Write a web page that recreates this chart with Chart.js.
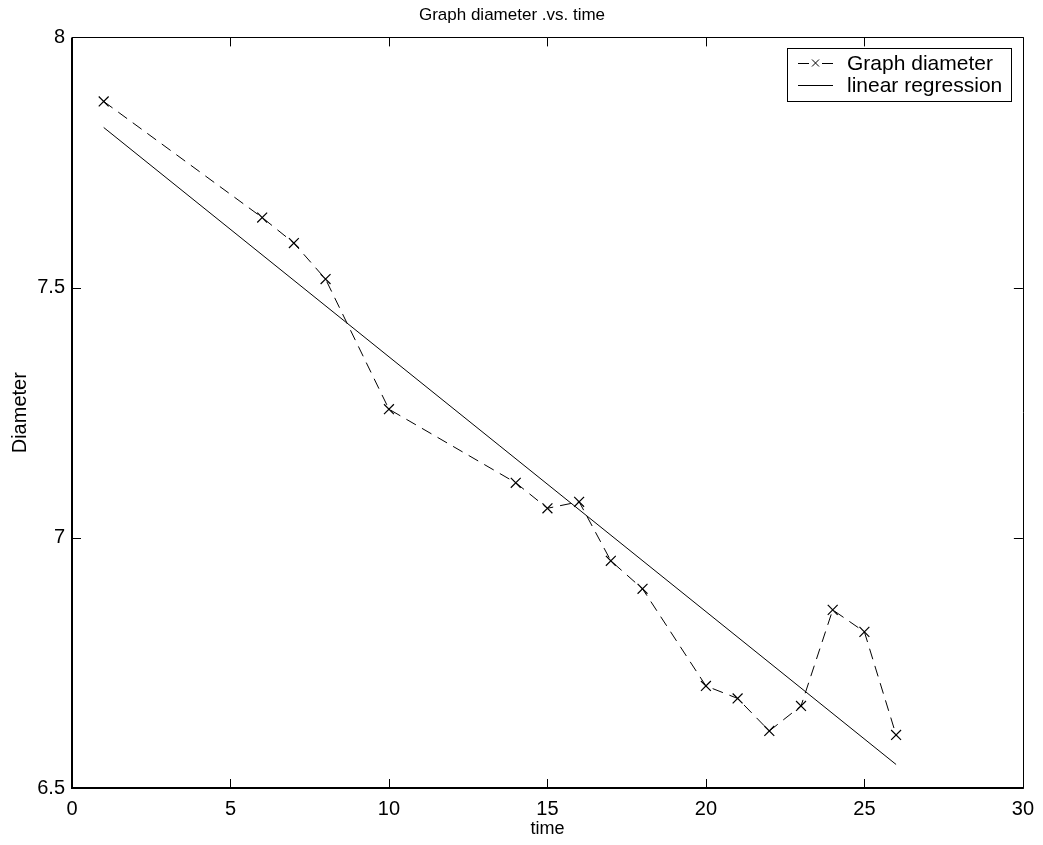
<!DOCTYPE html>
<html>
<head>
<meta charset="utf-8">
<title>Graph diameter .vs. time</title>
<script src="https://cdn.jsdelivr.net/npm/chart.js@4"></script>
<style>
    html, body { margin: 0; padding: 0; background: #fff; }
    #wrap { width: 1043px; height: 845px; }
</style>
</head>
<body>
<div id="wrap"><canvas id="diameterChart" width="1043" height="845"></canvas></div>
<script>
// Values
const timeValues = [1, 6, 7, 8, 10, 14, 15, 16, 17, 18, 20, 21, 22, 23, 24, 25, 26];
const diameterValues = [7.872, 7.640, 7.589, 7.517, 7.257, 7.110, 7.059, 7.072, 6.954, 6.898,
                        6.704, 6.679, 6.614, 6.664, 6.856, 6.812, 6.606];
const regressionTime = [1, 26];
const regressionValues = [7.820, 6.547];
const xTicks = [0, 5, 10, 15, 20, 25, 30];
const yTicks = [6.5, 7, 7.5, 8];
const seriesNames = ['Graph diameter', 'linear regression'];

const FONT = "'Liberation Sans', Arial, Helvetica, sans-serif";

// MATLAB style box with ticks pointing inwards on all four sides
const boxPlugin = {
    id: 'matlabBox',
    afterDraw(chart) {
        const { ctx, chartArea: a, scales } = chart;
        const len = 9;
        ctx.save();
        ctx.strokeStyle = '#000';
        ctx.lineWidth = 1;
        ctx.beginPath();
        xTicks.forEach(v => {
            const px = Math.round(scales.x.getPixelForValue(v)) + 0.5;
            ctx.moveTo(px, a.bottom); ctx.lineTo(px, a.bottom - len);
            ctx.moveTo(px, a.top); ctx.lineTo(px, a.top + len);
        });
        yTicks.forEach(v => {
            const py = Math.round(scales.y.getPixelForValue(v)) + 0.5;
            ctx.moveTo(a.left, py); ctx.lineTo(a.left + len, py);
            ctx.moveTo(a.right, py); ctx.lineTo(a.right - len, py);
        });
        ctx.stroke();

        // top and right edges thin, left and bottom heavier
        ctx.beginPath();
        ctx.moveTo(a.left, Math.round(a.top) + 0.5);
        ctx.lineTo(Math.round(a.right) + 0.5, Math.round(a.top) + 0.5);
        ctx.lineTo(Math.round(a.right) + 0.5, a.bottom);
        ctx.stroke();
        ctx.lineWidth = 2;
        ctx.beginPath();
        ctx.moveTo(Math.round(a.left), a.top);
        ctx.lineTo(Math.round(a.left), Math.round(a.bottom));
        ctx.lineTo(a.right + 1, Math.round(a.bottom));
        ctx.stroke();
        ctx.restore();
    }
};

// Legend drawn inside the axes, top right corner
const legendPlugin = {
    id: 'insideLegend',
    afterDraw(chart) {
        const { ctx } = chart;
        const box = { left: 787, top: 48, width: 224, height: 53 };
        const rows = [63, 85];
        ctx.save();
        ctx.fillStyle = '#fff';
        ctx.fillRect(box.left, box.top, box.width, box.height);
        ctx.strokeStyle = '#000';
        ctx.lineWidth = 1;
        ctx.strokeRect(box.left + 0.5, box.top + 0.5, box.width, box.height);

        // dashed sample with a cross marker
        ctx.beginPath();
        ctx.moveTo(798, rows[0] + 0.5); ctx.lineTo(809, rows[0] + 0.5);
        ctx.moveTo(822, rows[0] + 0.5); ctx.lineTo(833, rows[0] + 0.5);
        ctx.moveTo(812, rows[0] - 3.5); ctx.lineTo(819, rows[0] + 3.5);
        ctx.moveTo(819, rows[0] - 3.5); ctx.lineTo(812, rows[0] + 3.5);
        ctx.stroke();

        // solid sample
        ctx.beginPath();
        ctx.moveTo(798, rows[1] + 0.5); ctx.lineTo(833, rows[1] + 0.5);
        ctx.stroke();

        ctx.fillStyle = '#000';
        ctx.font = '21px ' + FONT;
        ctx.textBaseline = 'middle';
        ctx.textAlign = 'left';
        ctx.fillText(seriesNames[0], 847, rows[0] + 1);
        ctx.fillText(seriesNames[1], 847, rows[1] + 1);
        ctx.restore();
    }
};

function init() {
    const ctx = document.getElementById('diameterChart').getContext('2d');

    new Chart(ctx, {
        type: 'line',
        data: {
            datasets: [
                {
                    label: seriesNames[0],
                    data: timeValues.map((t, i) => ({ x: t, y: diameterValues[i] })),
                    borderColor: '#000',
                    backgroundColor: '#000',
                    borderWidth: 1,
                    borderDash: [11, 7],
                    pointStyle: 'crossRot',
                    pointRadius: 7,
                    pointBorderWidth: 1.2,
                    pointBorderColor: '#000',
                    tension: 0,
                    fill: false
                },
                {
                    label: seriesNames[1],
                    data: regressionTime.map((t, i) => ({ x: t, y: regressionValues[i] })),
                    borderColor: '#000',
                    borderWidth: 1,
                    pointRadius: 0,
                    tension: 0,
                    fill: false
                }
            ]
        },
        options: {
            responsive: false,
            animation: false,
            devicePixelRatio: 1,
            layout: { padding: { left: 0, right: 19, top: 0, bottom: 0 } },
            plugins: {
                legend: { display: false },
                tooltip: { enabled: false },
                title: {
                    display: true,
                    text: 'Graph diameter .vs. time',
                    color: '#000',
                    font: { family: FONT, size: 17, weight: 'normal' },
                    padding: { top: 5, bottom: 12 }
                }
            },
            scales: {
                x: {
                    type: 'linear',
                    min: 0,
                    max: 30,
                    afterBuildTicks: scale => { scale.ticks = xTicks.map(v => ({ value: v })); },
                    afterFit: scale => { scale.height = 57; },
                    grid: { display: false, drawTicks: false },
                    border: { display: false },
                    ticks: {
                        color: '#000',
                        padding: 9,
                        maxRotation: 0,
                        font: { family: FONT, size: 20 },
                        callback: v => String(v)
                    },
                    title: {
                        display: true,
                        text: 'time',
                        color: '#000',
                        font: { family: FONT, size: 18 },
                        padding: { top: 0, bottom: 5 }
                    }
                },
                y: {
                    type: 'linear',
                    min: 6.5,
                    max: 8,
                    afterBuildTicks: scale => { scale.ticks = yTicks.map(v => ({ value: v })); },
                    afterFit: scale => { scale.width = 72; },
                    grid: { display: false, drawTicks: false },
                    border: { display: false },
                    ticks: {
                        color: '#000',
                        padding: 7,
                        font: { family: FONT, size: 20 },
                        callback: v => String(v)
                    },
                    title: {
                        display: true,
                        text: 'Diameter',
                        color: '#000',
                        font: { family: FONT, size: 20 },
                        padding: { top: 8, bottom: 0 }
                    }
                }
            }
        },
        plugins: [boxPlugin, legendPlugin]
    });
}

document.addEventListener('DOMContentLoaded', init);
</script>
</body>
</html>
